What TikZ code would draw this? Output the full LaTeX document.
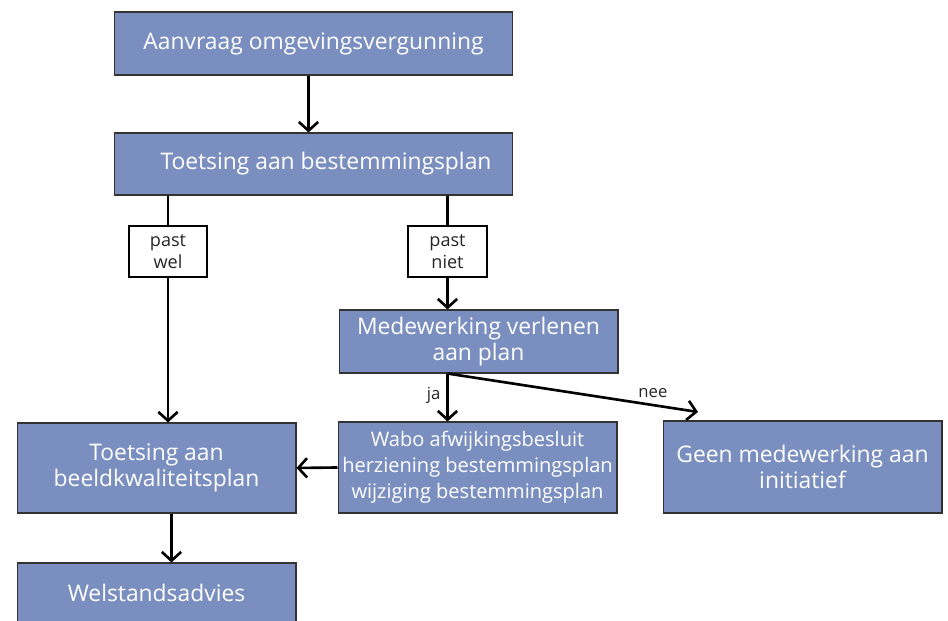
\documentclass[tikz,border=0pt]{standalone}
\usepackage{fontspec}
\setmainfont{Open Sans}
\usetikzlibrary{positioning}
\usetikzlibrary{arrows.meta, calc}
\definecolor{blokblauw}{RGB}{122,143,192}

\begin{document}
\begin{tikzpicture}
  [
    x=0.02cm, y=-0.02cm,
    >={Straight Barb[length=5pt,width=11pt]},
    blok/.style  = {draw=black!80, line width=0.6pt, fill=blokblauw, text=white, align=center, inner sep=1pt, font=\fontsize{13}{14.8}\selectfont},
    vraag/.style = {draw, line width=0.6pt, fill=white, text=black!85, align=center, inner sep=1pt, font=\fontsize{10.3}{12.5}\selectfont},
    pijl/.style  = {->, line width=1.5pt},
    lijn/.style  = {line width=1.5pt},
    tekst/.style = {text=black!85, font=\fontsize{9.5}{12}\selectfont},
  ]

  % canvas
  \useasboundingbox (0,0) rectangle (948,621);
  \clip (0,0) rectangle (948,621);

  % the boxes
  \node (aanvraag) at (313.5,43.5) [blok, minimum width=7.98cm, minimum height=1.26cm] {Aanvraag omgevingsvergunning};
  \node (bestemming) at (313.5,164) [blok, minimum width=7.98cm, minimum height=1.24cm] {\hspace*{0.5cm}Toetsing aan bestemmingsplan};

  \node (wel) at (168,251.5) [vraag, minimum width=1.56cm, minimum height=1.02cm] {past\\wel};
  \node (niet) at (447.5,251.5) [vraag, minimum width=1.58cm, minimum height=1.02cm] {past\\niet};

  \node (medewerking) at (478.5,341.5) [blok, minimum width=5.58cm, minimum height=1.26cm] {Medewerking verlenen\\aan plan};
  \node (wabo) at (477.5,467.5) [blok, minimum width=5.58cm, minimum height=1.82cm, font=\fontsize{11.4}{14.8}\selectfont] {Wabo afwijkingsbesluit\\herziening bestemmingsplan\\wijziging bestemmingsplan};
  \node (geen) at (802.5,467) [blok, minimum width=5.58cm, minimum height=1.84cm] {Geen medewerking aan\\initiatief};
  \node (beeld) at (156.5,468) [blok, minimum width=5.58cm, minimum height=1.8cm] {Toetsing aan\\beeldkwaliteitsplan};
  \node (welstand) at (156.5,593) [blok, minimum width=5.58cm, minimum height=1.2cm] {Welstandsadvies};

  \coordinate (neepunt) at (698,412);

  % connectors
  \draw[pijl] ([xshift=-0.1cm]aanvraag.south) -- ([xshift=-0.1cm]bestemming.north);

  \draw[lijn] (bestemming.south -| wel.north) -- (wel.north);
  \draw[pijl] (wel.south) -- (wel.south |- beeld.north);

  \draw[lijn] (bestemming.south -| niet.north) -- (niet.north);
  \draw[pijl] (niet.south) -- (niet.south |- medewerking.north);

  \draw[pijl] (medewerking.south -| niet.south) -- node [tekst, left, pos=0.45] {ja} (niet.south |- wabo.north);
  \draw[pijl] (medewerking.south -| niet.south) -- node [tekst, above, pos=0.82] {nee} (neepunt);

  \draw[pijl] (wabo.west) -- (beeld.east);
  \draw[pijl] ([xshift=0.3cm]beeld.south) -- ([xshift=0.3cm]welstand.north);

\end{tikzpicture}
\end{document}
